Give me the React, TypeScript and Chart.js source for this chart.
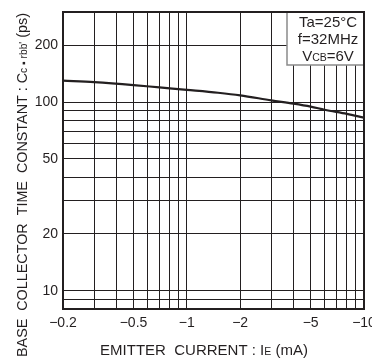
import React, { useEffect, useRef } from 'react';
import { Chart, registerables } from 'chart.js';

Chart.register(...registerables);

// Emitter current magnitude (mA); the axis shows them as negative values
const currentMagnitudes = [0.2, 0.3, 0.5, 0.7, 1, 1.5, 2, 3, 4, 5, 6, 8, 10];
// Base collector time constant Cc·rbb' (ps)
const timeConstants = [130, 127.5, 123, 119.5, 116, 112, 108.5, 102, 98, 94.5, 91, 86.5, 82.7];

const xGridValues = [0.2, 0.3, 0.4, 0.5, 0.6, 0.7, 0.8, 0.9, 1, 2, 3, 4, 5, 6, 7, 8, 9, 10];
const xLabelValues = [0.2, 0.5, 1, 2, 5, 10];
const yGridValues = [8, 9, 10, 20, 30, 40, 50, 60, 70, 80, 90, 100, 200, 300];
const yLabelValues = [10, 20, 50, 100, 200];

type Seg = [string, boolean]; // [text, small]
const conditionLines: Seg[][] = [
  [['Ta=25°C', false]],
  [['f=32MHz', false]],
  [['V', false], ['CB', true], ['=6V', false]],
];
const xTitle: Seg[] = [['EMITTER  CURRENT : I', false], ['E', true], [' (mA)', false]];
const yTitle: Seg[] = [
  ['BASE  COLLECTOR  TIME  CONSTANT : C', false],
  ['c', true],
  [' \u25AA ', true],
  ['rbb\'', true],
  [' (ps)', false],
];

const FONT = '"Liberation Sans", Arial, Helvetica, sans-serif';
const INK = '#231f20';

function segWidths(ctx: CanvasRenderingContext2D, segs: Seg[], size: number, small: number) {
  return segs.map(([t, s]) => {
    ctx.font = `${s ? small : size}px ${FONT}`;
    return ctx.measureText(t).width;
  });
}

function drawSegs(
  ctx: CanvasRenderingContext2D,
  segs: Seg[],
  cx: number,
  baseline: number,
  size: number,
  small: number,
  targetWidth?: number
) {
  const ws = segWidths(ctx, segs, size, small);
  const total = ws.reduce((a, b) => a + b, 0);
  const sx = targetWidth ? targetWidth / total : 1;
  ctx.save();
  ctx.translate(cx, baseline);
  ctx.scale(sx, 1);
  let x = -total / 2;
  ctx.textAlign = 'left';
  ctx.textBaseline = 'alphabetic';
  ctx.fillStyle = INK;
  segs.forEach(([t, s], i) => {
    ctx.font = `${s ? small : size}px ${FONT}`;
    ctx.fillText(t, x, 0);
    x += ws[i];
  });
  ctx.restore();
}

const decorPlugin = {
  id: 'decor',
  afterDraw(chart: any) {
    const ctx: CanvasRenderingContext2D = chart.ctx;
    const { left, right, top, bottom } = chart.chartArea;
    ctx.save();
    // condition box
    const bx = right - 77;
    const bh = 53;
    ctx.fillStyle = '#ffffff';
    ctx.fillRect(bx, top, right - bx, bh);
    ctx.strokeStyle = '#8a8a8a';
    ctx.lineWidth = 1.5;
    ctx.beginPath();
    ctx.moveTo(bx, top);
    ctx.lineTo(bx, top + bh);
    ctx.lineTo(right, top + bh);
    ctx.stroke();
    conditionLines.forEach((line, i) => {
      drawSegs(ctx, line, right - 36, top + 15 + i * 17, 15, 10.5);
    });
    // frame
    ctx.strokeStyle = INK;
    ctx.lineWidth = 2;
    ctx.strokeRect(left, top, right - left, bottom - top);
    // x title
    drawSegs(ctx, xTitle, 204, 355, 15, 10.5);
    // y title (rotated)
    ctx.save();
    ctx.translate(27, 185);
    ctx.rotate(-Math.PI / 2);
    drawSegs(ctx, yTitle, 0, 0, 14, 10, 344);
    ctx.restore();
    ctx.restore();
  },
};

export default function App() {
  const ref = useRef<HTMLCanvasElement | null>(null);
  useEffect(() => {
    if (!ref.current) return;
    const chart = new Chart(ref.current, {
      type: 'line',
      data: {
        datasets: [
          {
            data: currentMagnitudes.map((x, i) => ({ x, y: timeConstants[i] })),
            borderColor: INK,
            borderWidth: 2.2,
            pointRadius: 0,
            cubicInterpolationMode: 'monotone',
            fill: false,
          },
        ],
      },
      options: {
        animation: false,
        responsive: true,
        maintainAspectRatio: false,
        layout: { padding: { left: 8, top: 12, right: 8, bottom: 0 } },
        plugins: { legend: { display: false }, tooltip: { enabled: false } },
        scales: {
          x: {
            type: 'logarithmic',
            min: 0.2,
            max: 10,
            afterBuildTicks: (s: any) => {
              s.ticks = xGridValues.map((v) => ({ value: v }));
            },
            afterFit: (s: any) => {
              s.height = 52;
              s.paddingLeft = 0;
              s.paddingRight = 0;
            },
            grid: { color: INK, lineWidth: 1, drawTicks: false },
            border: { display: false },
            ticks: {
              autoSkip: false,
              maxRotation: 0,
              padding: 6,
              color: INK,
              font: { family: FONT, size: 14 },
              callback: (v: any) => (xLabelValues.includes(Number(v)) ? '\u2212' + Number(v) : ''),
            },
          },
          y: {
            type: 'logarithmic',
            min: 8,
            max: 300,
            afterBuildTicks: (s: any) => {
              s.ticks = yGridValues.map((v) => ({ value: v }));
            },
            afterFit: (s: any) => {
              s.width = 55;
              s.paddingTop = 0;
              s.paddingBottom = 0;
            },
            grid: { color: INK, lineWidth: 1, drawTicks: false },
            border: { display: false },
            ticks: {
              autoSkip: false,
              padding: 5,
              color: INK,
              font: { family: FONT, size: 14 },
              callback: (v: any) => (yLabelValues.includes(Number(v)) ? String(v) : ''),
            },
          },
        },
      },
      plugins: [decorPlugin],
    } as any);
    return () => chart.destroy();
  }, []);
  return (
    <div style={{ position: 'fixed', left: 0, top: 0, width: 372, height: 361, background: '#fff' }}>
      <canvas ref={ref} />
    </div>
  );
}
